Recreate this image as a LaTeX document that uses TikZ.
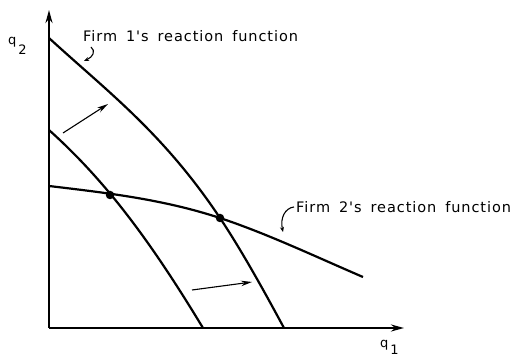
\documentclass[tikz,border=0pt]{standalone}
\usepackage{fontspec}
\setmainfont{DejaVu Sans}
\newfontfamily\lett[LetterSpace=6.5,WordSpace=1.6]{DejaVu Sans}
\usetikzlibrary{arrows.meta}
\newcommand{\lowsub}[2][9.5pt]{\kern2pt\raisebox{-#1}{#2}}
\begin{document}
\begin{tikzpicture}[x=1pt,y=-1pt,
  axis/.style={line width=2.4pt,-{Stealth[length=13pt,width=7pt]}},
  curve/.style={line width=2.2pt},
  shiftarrow/.style={line width=1.1pt,-{Stealth[length=11pt,width=5.5pt]}},
  hook/.style={line width=1.1pt,-{Stealth[length=5pt,width=4pt]}},
  lbl/.style={font=\lett\fontsize{14.5}{16}\selectfont,anchor=base west,inner sep=0pt},
  axlbl/.style={font=\lett\fontsize{13}{14}\selectfont,anchor=base west,inner sep=0pt},
  dot/.style={circle,fill=black,inner sep=0pt,minimum size=8.5pt}]
\useasboundingbox (0,0) rectangle (515,358);
\coordinate (O) at (49,328);
\coordinate (Y) at (49,10);
\coordinate (X) at (404,328);
\draw[axis] (O) -- (Y);
\draw[axis] (O) -- (X);
\node[axlbl] (q2) at (8,45) {q\lowsub{2}};
\node[axlbl] (q1) at (380,348) {q\lowsub[7pt]{1}};
% Firm 1 reaction functions
\draw[curve] (49,130) .. controls (104,179.5) and (148,237) .. (203,328);
\draw[curve] (49,38) .. controls (106,90.4) and (163,132.5) .. (220,218)
   .. controls (241,249.5) and (263,289) .. (284,328);
% Firm 2 reaction function
\draw[curve] (49,186) .. controls (106,192.8) and (163,199.2) .. (220,218)
   .. controls (268,234) and (315,256.4) .. (363,277);
\node[dot] (e1) at (110,195) {};
\node[dot] (e2) at (220,218) {};
% shift arrows
\coordinate (a1) at (63,133); \coordinate (b1) at (108,104);
\draw[shiftarrow] (a1) -- (b1);
\coordinate (a2) at (192,290); \coordinate (b2) at (252,282);
\draw[shiftarrow] (a2) -- (b2);
% labels
\node[lbl] (f1) at (83,42) {Firm 1's reaction function};
\node[lbl] (f2) at (296,213) {Firm 2's reaction function};
\coordinate (h1s) at (91,47); \coordinate (h1e) at (84,61);
\draw[hook] (h1s) .. controls (96,51) and (93,57) .. (h1e);
\coordinate (h2s) at (294,207); \coordinate (h2e) at (283,232);
\draw[hook] (h2s) .. controls (285,208) and (280,218) .. (h2e);
\end{tikzpicture}
\end{document}
